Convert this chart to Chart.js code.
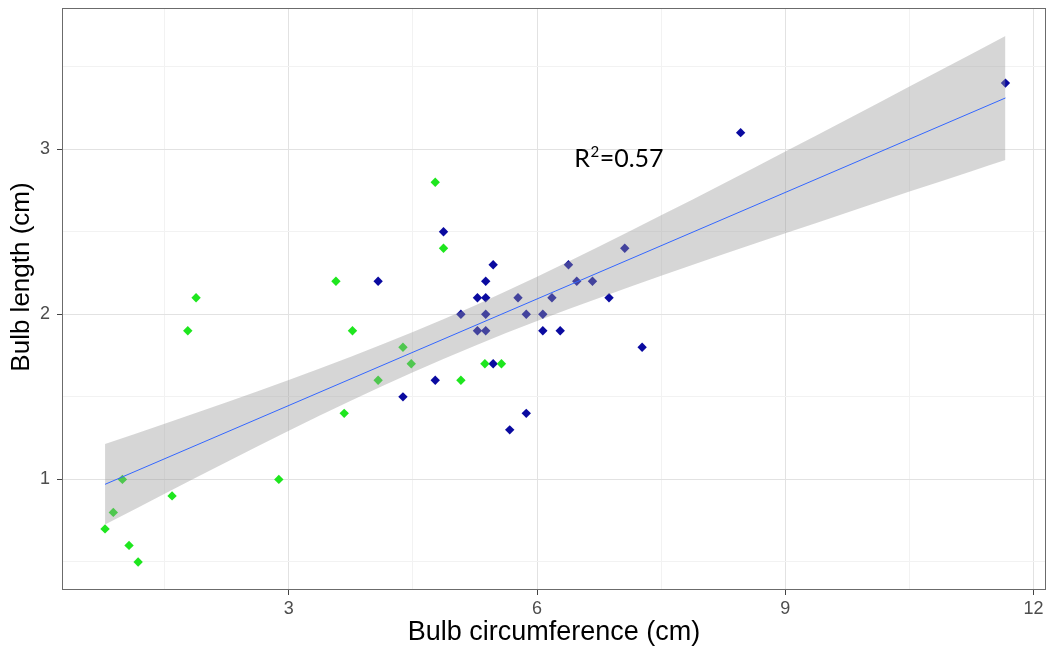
<!DOCTYPE html>
<html><head><meta charset="utf-8">
<script src="https://cdn.jsdelivr.net/npm/chart.js@4.4.1/dist/chart.umd.min.js"></script>
<style>html,body{margin:0;padding:0;background:#fff;overflow:hidden}#wrap{width:1051px;height:652px;position:relative}</style>
</head><body><div id="wrap"><canvas id="c" width="1051" height="652"></canvas></div>
<script>
// ---- data ----
const greenX = [0.78, 0.88, 0.99, 1.07, 1.18, 1.59, 1.78, 1.88, 2.88, 3.57, 3.77, 3.67, 4.08, 4.38, 4.48, 4.77, 4.87, 5.08, 5.37, 5.57];
const greenY = [0.70, 0.80, 1.00, 0.60, 0.50, 0.90, 1.90, 2.10, 1.00, 2.20, 1.90, 1.40, 1.60, 1.80, 1.70, 2.80, 2.40, 1.60, 1.70, 1.70];
const blueX = [4.87, 4.08, 5.47, 5.38, 5.28, 5.38, 5.08, 5.38, 5.28, 5.38, 5.47, 4.77, 4.38, 5.87, 5.67, 5.77, 5.87, 6.07, 6.07, 7.06, 6.38, 6.48, 6.67, 6.18, 6.87, 6.28, 7.27, 8.46, 11.66];
const blueY = [2.50, 2.20, 2.30, 2.20, 2.10, 2.10, 2.00, 2.00, 1.90, 1.90, 1.70, 1.60, 1.50, 1.40, 1.30, 2.10, 2.00, 2.00, 1.90, 2.40, 2.30, 2.20, 2.20, 2.10, 2.10, 1.90, 1.80, 3.10, 3.40];
const fitX = [0.78, 11.66];
const fitY = [0.97, 3.31];
const bandX = [0.78, 1.5, 2.25, 3.0, 3.75, 4.5, 5.25, 6.0, 6.75, 7.5, 8.25, 9.0, 9.75, 10.5, 11.25, 11.66];
const bandUpper = [1.214, 1.337, 1.467, 1.602, 1.742, 1.892, 2.053, 2.227, 2.410, 2.599, 2.791, 2.986, 3.181, 3.379, 3.577, 3.685];
const bandLower = [0.726, 0.913, 1.105, 1.294, 1.476, 1.649, 1.810, 1.959, 2.098, 2.233, 2.363, 2.491, 2.617, 2.743, 2.867, 2.935];
const xMajorTicks = [3, 6, 9, 12];
const xMinorTicks = [1.5, 4.5, 7.5, 10.5];
const yMajorTicks = [1, 2, 3];
const yMinorTicks = [0.5, 1.5, 2.5, 3.5];
const xTitle = 'Bulb circumference (cm)';
const yTitle = 'Bulb length (cm)';
const r2Base = 'R', r2Sup = '2', r2Rest = '=0.57';
const r2PosX = 6.45, r2PosY = 2.89;

// ---- styling ----
const GREEN = '#1ee61e', BLUE = '#0a0aa0';
const FAMILY = "'Liberation Sans', Arial, sans-serif";
const tickFont = {family: FAMILY, size: 18};
const titleFont = {family: FAMILY, size: 27};

const pts = (xs, ys) => xs.map((x, i) => ({x: x, y: ys[i]}));
const isMajor = (list, v) => list.some(t => Math.abs(t - v) < 1e-9);

const panelPlugin = {
  id: 'panel',
  afterDatasetsDraw(chart) {
    const {ctx, chartArea: a, scales} = chart;
    ctx.save();
    ctx.strokeStyle = '#6b6b6b';
    ctx.lineWidth = 1;
    ctx.strokeRect(a.left + 0.5, a.top + 0.5, a.right - a.left - 1, a.bottom - a.top - 1);
    // R^2 label
    const x0 = scales.x.getPixelForValue(r2PosX);
    const y0 = scales.y.getPixelForValue(r2PosY);
    ctx.fillStyle = '#000';
    ctx.textBaseline = 'alphabetic';
    ctx.textAlign = 'left';
    ctx.font = "25px Lato, 'Open Sans', sans-serif";
    ctx.fillText(r2Base, x0, y0);
    let w = ctx.measureText(r2Base).width;
    ctx.font = "15px Lato, 'Open Sans', sans-serif";
    ctx.fillText(r2Sup, x0 + w + 0.5, y0 - 10);
    w += ctx.measureText(r2Sup).width + 1;
    ctx.font = "25px Lato, 'Open Sans', sans-serif";
    ctx.fillText(r2Rest, x0 + w, y0);
    // y-axis title (sits a little above the panel centre in the reference)
    ctx.translate(22, (a.top + a.bottom) / 2 - 22);
    ctx.rotate(-Math.PI / 2);
    ctx.textAlign = 'center';
    ctx.textBaseline = 'middle';
    ctx.font = "26px " + FAMILY;
    ctx.fillText(yTitle, 0, 0);
    ctx.restore();
  }
};

new Chart(document.getElementById('c'), {
  type: 'scatter',
  data: {
    datasets: [
      {label: 'green', data: pts(greenX, greenY), pointStyle: 'rectRot', pointRadius: 4.7, backgroundColor: GREEN, borderWidth: 0, borderColor: GREEN, order: 5},
      {label: 'blue', data: pts(blueX, blueY), pointStyle: 'rectRot', pointRadius: 4.7, backgroundColor: BLUE, borderWidth: 0, borderColor: BLUE, order: 5},
      {type: 'line', label: 'lower', data: pts(bandX, bandLower), borderColor: 'rgba(0,0,0,0)', borderWidth: 0, pointRadius: 0, fill: false, cubicInterpolationMode: 'monotone', order: 3},
      {type: 'line', label: 'upper', data: pts(bandX, bandUpper), borderColor: 'rgba(0,0,0,0)', borderWidth: 0, pointRadius: 0, fill: '-1', backgroundColor: 'rgba(153,153,153,0.4)', cubicInterpolationMode: 'monotone', order: 2},
      {type: 'line', label: 'fit', data: pts(fitX, fitY), borderColor: '#3366FF', borderWidth: 1, pointRadius: 0, fill: false, order: 1}
    ]
  },
  options: {
    responsive: false,
    animation: false,
    events: [],
    layout: {padding: {top: 8, right: 5, left: 0, bottom: 0}},
    plugins: {legend: {display: false}, tooltip: {enabled: false}},
    scales: {
      x: {
        type: 'linear', min: 0.26, max: 12.15,
        afterBuildTicks: s => { s.ticks = xMinorTicks.concat(xMajorTicks).sort((a, b) => a - b).map(v => ({value: v})); },
        afterFit: s => { s.height = 62; s.paddingLeft = 0; s.paddingRight = 0; },
        ticks: {autoSkip: false, maxRotation: 0, font: tickFont, color: '#4d4d4d', padding: 3,
          callback: v => isMajor(xMajorTicks, v) ? String(v) : ''},
        grid: {
          color: c => isMajor(xMajorTicks, c.tick.value) ? '#e2e2e2' : '#f2f2f2',
          lineWidth: 1,
          tickColor: c => isMajor(xMajorTicks, c.tick.value) ? '#444' : 'rgba(0,0,0,0)',
          tickLength: 5, drawTicks: true
        },
        border: {display: false},
        title: {display: true, text: xTitle, font: titleFont, color: '#000', padding: {top: 0, bottom: 3}}
      },
      y: {
        type: 'linear', min: 0.33, max: 3.855,
        afterBuildTicks: s => { s.ticks = yMinorTicks.concat(yMajorTicks).sort((a, b) => a - b).map(v => ({value: v})); },
        afterFit: s => { s.width = 62; s.paddingTop = 0; s.paddingBottom = 0; },
        ticks: {autoSkip: false, font: tickFont, color: '#4d4d4d', padding: 7,
          callback: v => isMajor(yMajorTicks, v) ? String(v) : ''},
        grid: {
          color: c => isMajor(yMajorTicks, c.tick.value) ? '#e2e2e2' : '#f2f2f2',
          lineWidth: 1,
          tickColor: c => isMajor(yMajorTicks, c.tick.value) ? '#444' : 'rgba(0,0,0,0)',
          tickLength: 5, drawTicks: true
        },
        border: {display: false},
        title: {display: false}
      }
    }
  },
  plugins: [panelPlugin]
});
</script></body></html>
